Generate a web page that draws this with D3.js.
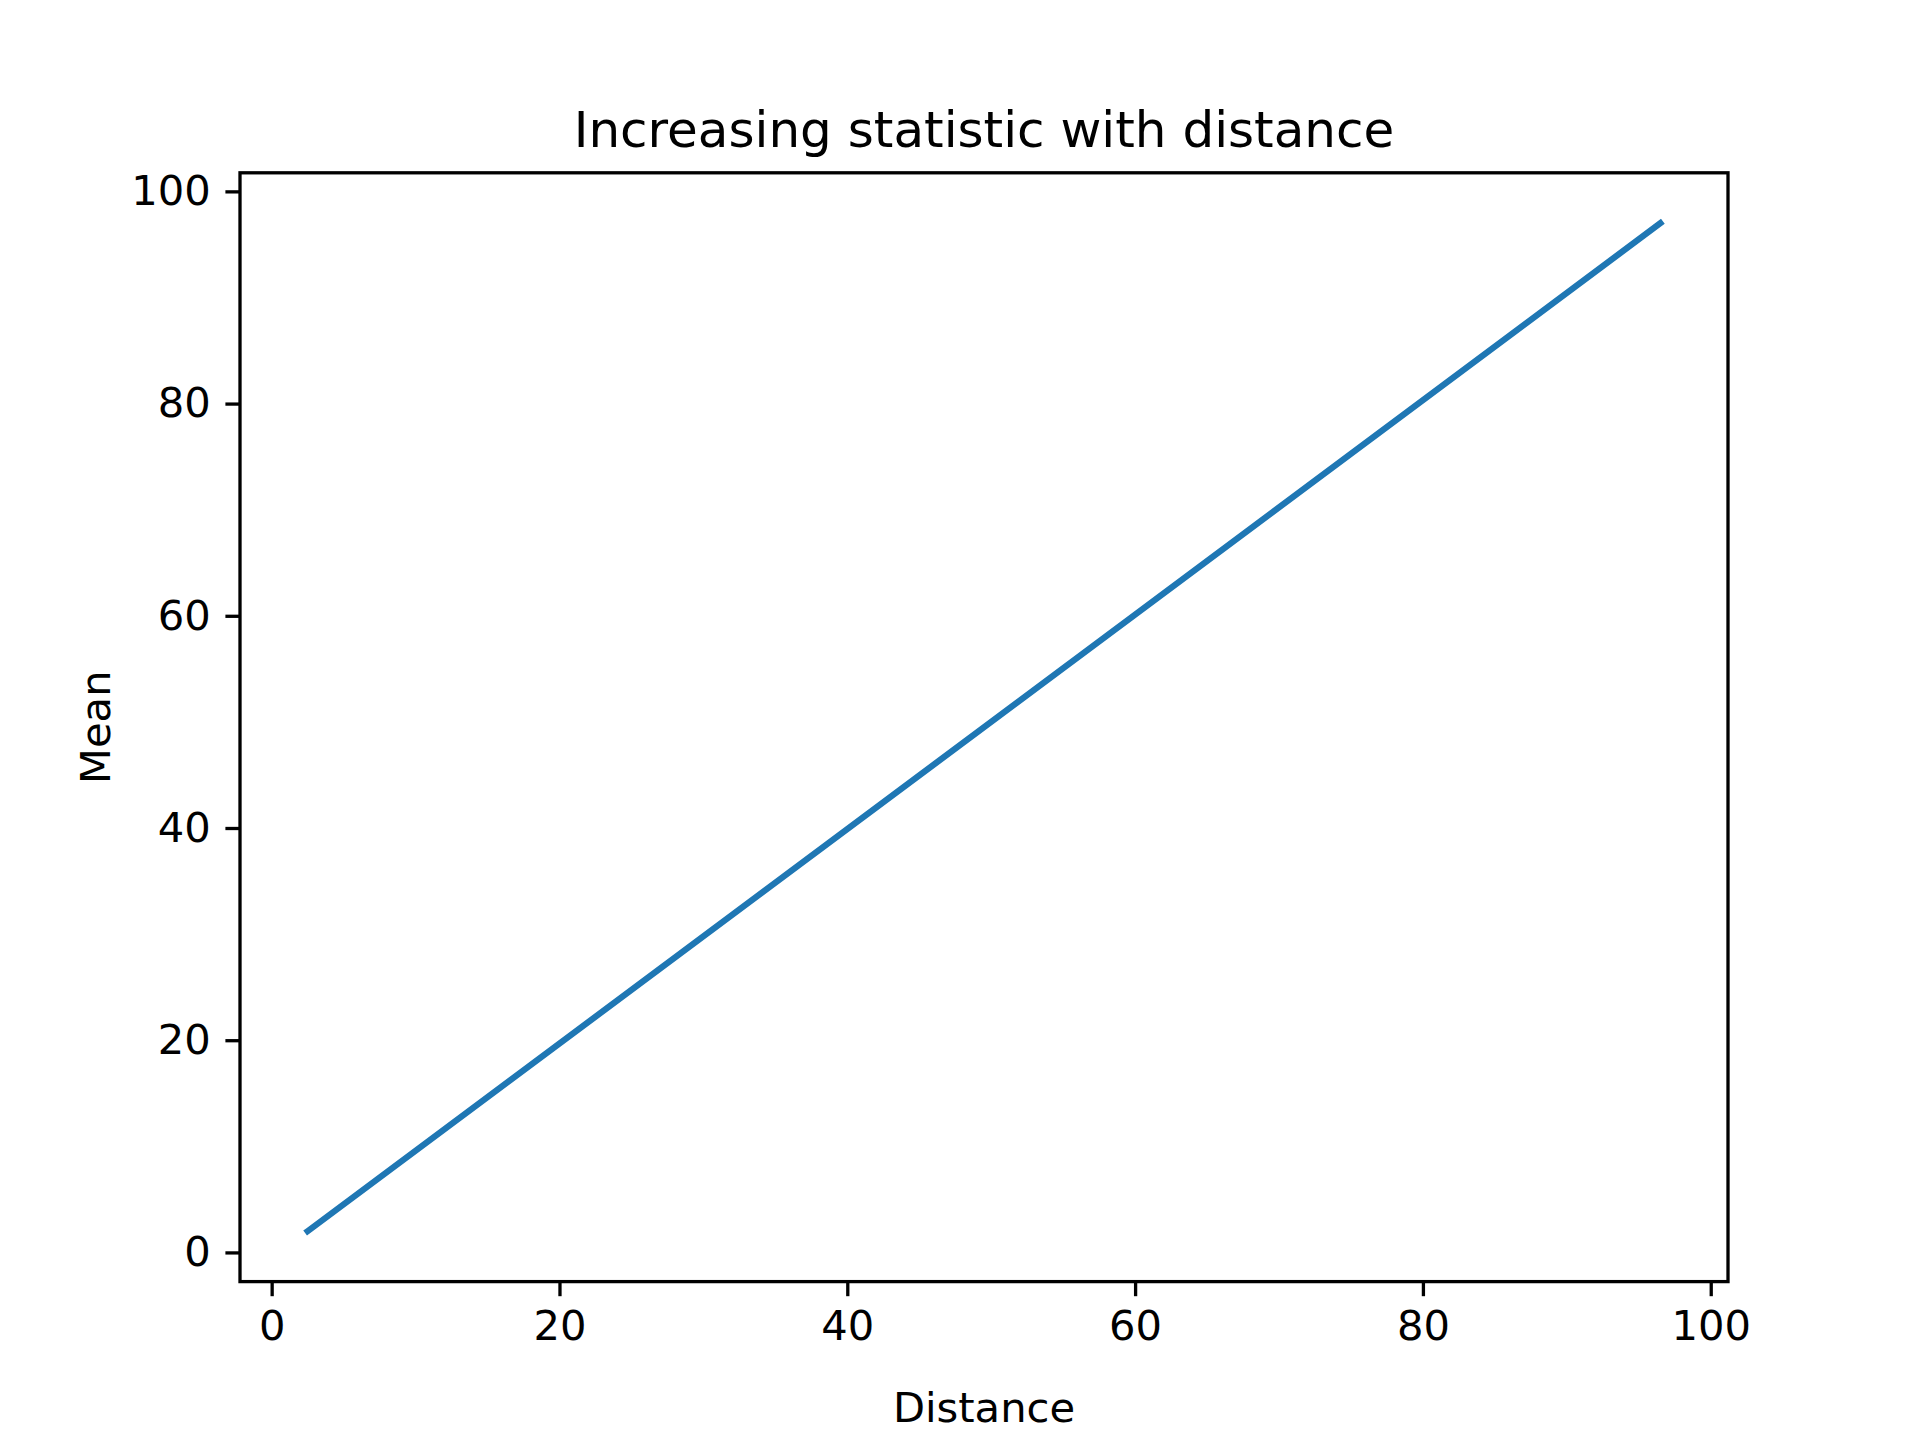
<!DOCTYPE html>
<html><head><meta charset="utf-8">
<script src="https://cdn.jsdelivr.net/npm/d3@7"></script>
<style>body{margin:0;background:#fff}text{font-family:"DejaVu Sans",sans-serif}</style>
</head><body><svg id="c" width="1920" height="1440"></svg>
<script>
const distance = [2.5, 96.5];
const mean = [2, 97];
const xTicks = [0, 20, 40, 60, 80, 100];
const yTicks = [0, 20, 40, 60, 80, 100];

const L = 240, R = 1728, T = 172.8, B = 1281.6;
const svg = d3.select("#c");
const x = d3.scaleLinear().domain([-2.2, 101.2]).range([L, R]);
const y = d3.scaleLinear().domain([-2.75, 101.75]).range([B, T]);
const tickSize = 14.6, fs = 41.67;

const xa = svg.append("g").attr("transform", `translate(0,${B})`)
  .call(d3.axisBottom(x).tickValues(xTicks).tickSize(tickSize).tickPadding(14.6).tickFormat(d3.format("d")));
const ya = svg.append("g").attr("transform", `translate(${L},0)`)
  .call(d3.axisLeft(y).tickValues(yTicks).tickSize(tickSize).tickPadding(14.6).tickFormat(d3.format("d")));
[xa, ya].forEach(a => {
  a.select(".domain").remove();
  a.selectAll("line").attr("stroke", "#000").attr("stroke-width", 3.3);
  a.selectAll("text").attr("font-size", fs).attr("fill", "#000").attr("font-family", "DejaVu Sans");
});

svg.append("path")
  .datum(distance.map((d, i) => [d, mean[i]]))
  .attr("d", d3.line().x(d => x(d[0])).y(d => y(d[1])))
  .attr("fill", "none").attr("stroke", "#1f77b4").attr("stroke-width", 6.25).attr("stroke-linecap", "square");

svg.append("rect").attr("x", L).attr("y", T).attr("width", R - L).attr("height", B - T)
  .attr("fill", "none").attr("stroke", "#000").attr("stroke-width", 3.3);

svg.append("text").attr("x", (L + R) / 2).attr("y", 147).attr("text-anchor", "middle")
  .attr("font-size", 50).text("Increasing statistic with distance");
svg.append("text").attr("x", (L + R) / 2).attr("y", 1422).attr("text-anchor", "middle")
  .attr("font-size", fs).text("Distance");
svg.append("text").attr("transform", `translate(110,${(T + B) / 2}) rotate(-90)`).attr("text-anchor", "middle")
  .attr("font-size", fs).text("Mean");
</script></body></html>
